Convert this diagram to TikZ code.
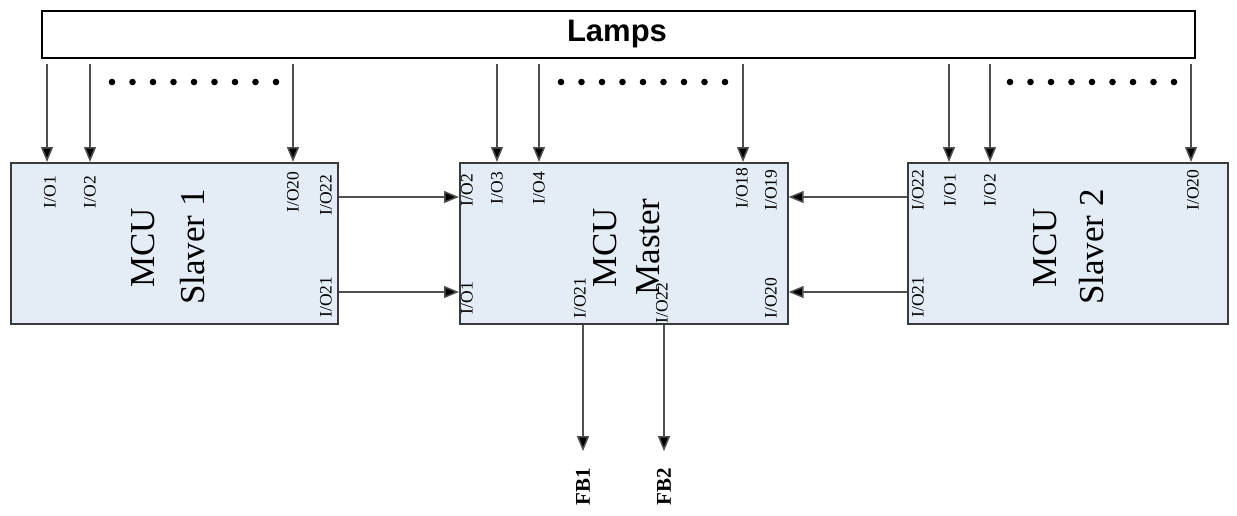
\documentclass[tikz,border=0pt]{standalone}
\usepackage{fontspec}
\setmainfont{Liberation Serif}
\newfontfamily\lsans{Liberation Sans}
\usetikzlibrary{arrows.meta,calc}
\definecolor{boxfill}{HTML}{E4ECF6}
\definecolor{boxline}{HTML}{3A3A3A}
\definecolor{wireline}{HTML}{505050}
\begin{document}
\begin{tikzpicture}[x=1pt,y=-1pt,
  mcubox/.style={draw=boxline, fill=boxfill, line width=1.6pt, inner sep=0pt, anchor=north west, minimum height=161pt},
  lampbox/.style={draw=black, line width=1.6pt, inner sep=0pt, anchor=north west, minimum width=1153pt, minimum height=47pt},
  io/.style={rotate=90, inner sep=0pt, font=\fontsize{17.5}{17.5}\selectfont},
  big/.style={rotate=90, inner sep=0pt, font=\fontsize{35}{35}\selectfont},
  fb/.style={rotate=90, inner sep=0pt, font=\fontsize{21}{21}\selectfont\bfseries},
  arr/.style={draw=wireline, line width=1.5pt, -{Triangle[width=12pt,length=15pt,fill=black]}},
  dotrow/.style={fill=black}
]
\useasboundingbox (0,0) rectangle (1237,515);
% Lamps
\node[lampbox] (lamps) at (41,10) {};
\node[font=\lsans\bfseries\fontsize{31}{31}\selectfont, inner sep=0pt] (lampstext) at (617,34) {Lamps};
% boxes
\node[mcubox, minimum width=327pt] (s1) at (10,162) {};
\node[mcubox, minimum width=328pt] (m) at (459,162) {};
\node[mcubox, minimum width=320pt] (s2) at (907,162) {};
% slaver 1 labels
\node[io] (s1a) at (50,192) {I/O1};
\node[io] (s1b) at (90,192) {I/O2};
\node[io] (s1c) at (293,192) {I/O20};
\node[io] (s1d) at (326,195) {I/O22};
\node[io] (s1e) at (326,297) {I/O21};
\node[big] (s1t1) at (143,248) {MCU};
\node[big] (s1t2) at (193,247) {Slaver 1};
% master labels
\node[io] (ma) at (467,190) {I/O2};
\node[io] (mb) at (497,188) {I/O3};
\node[io] (mc) at (539,188) {I/O4};
\node[io] (md) at (742,188) {I/O18};
\node[io] (me) at (771,190) {I/O19};
\node[io] (mf) at (467,298) {I/O1};
\node[io] (mg) at (580,298) {I/O21};
\node[io] (mh) at (662,303) {I/O22};
\node[io] (mi) at (771,298) {I/O20};
\node[big] (mt1) at (605,248) {MCU};
\node[big] (mt2) at (648,247) {Master};
% slaver 2 labels
\node[io] (s2a) at (918,190) {I/O22};
\node[io] (s2b) at (950,190) {I/O1};
\node[io] (s2c) at (990,190) {I/O2};
\node[io] (s2d) at (1193,190) {I/O20};
\node[io] (s2e) at (918,297) {I/O21};
\node[big] (s2t1) at (1045,248) {MCU};
\node[big] (s2t2) at (1092,247) {Slaver 2};
% FB labels
\node[fb] (fb1) at (583,487) {FB1};
\node[fb] (fb2) at (664,487) {FB2};
% lamp arrows
\foreach \xx/\bx in {47/s1,90/s1,293/s1,497/m,539/m,743/m,949/s2,990/s2,1191/s2}
  \draw[arr] ([yshift=-5pt]lamps.south -| \xx,0) -- (\bx.north -| \xx,0);
% dots
\foreach \xs in {112,561,1010}
  \foreach \k in {0,...,8}
    \fill[dotrow] (\xs+20.5*\k,82) circle (3.3pt);
% horizontal arrows
\draw[arr] (s1.east |- 0,197) -- (m.west |- 0,197);
\draw[arr] (s1.east |- 0,292) -- (m.west |- 0,292);
\draw[arr] (s2.west |- 0,197) -- (m.east |- 0,197);
\draw[arr] (s2.west |- 0,292) -- (m.east |- 0,292);
% feedback arrows
\draw[arr] (m.south -| fb1) -- ([yshift=17pt]fb1.east);
\draw[arr] (m.south -| fb2) -- ([yshift=17pt]fb2.east);
\end{tikzpicture}
\end{document}
